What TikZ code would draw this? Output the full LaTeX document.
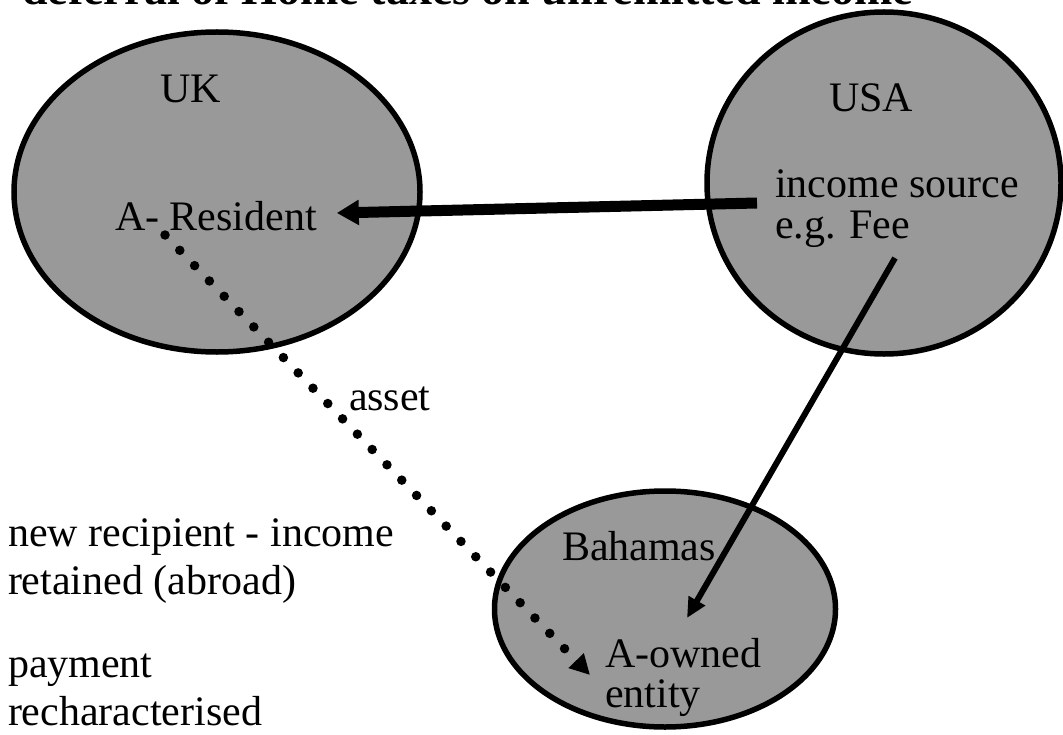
\documentclass[tikz,border=0pt]{standalone}
\usepackage{fontspec}
\setmainfont{Liberation Serif}
\usetikzlibrary{arrows.meta,shapes.geometric,calc}
\definecolor{fillgray}{RGB}{153,153,153}
\begin{document}
\begin{tikzpicture}[x=1bp,y=-1bp,
  country/.style={ellipse, draw=black, fill=fillgray, line width=5.5bp, inner sep=0pt, outer sep=0pt},
  lbl/.style={anchor=base west, inner sep=0pt, outer sep=0pt, font=\fontsize{42bp}{48bp}\selectfont},
  ttl/.style={anchor=base west, inner sep=0pt, outer sep=0pt, font=\fontsize{46bp}{52bp}\selectfont\bfseries},
  flow/.style={line width=11bp, -{Triangle[length=22bp,width=24bp]}},
  thinflow/.style={line width=6bp, -{Triangle[length=20bp,width=18bp]}},
  dots/.style={line width=9.5bp, line cap=round, dash pattern=on 0bp off 21.3bp, -{Triangle[length=20bp,width=20bp]}}]
\useasboundingbox (0,0) rectangle (1063,735);
% title (cut off at the top, as in the reference)
\node[ttl] (title) at (22,5) {deferral of Home taxes on unremitted income};
% countries
\node[country, minimum width=406bp, minimum height=320bp] (uk) at (217,192) {};
\node[country, minimum width=354bp, minimum height=342bp] (usa) at (884,183) {};
\node[country, minimum width=341bp, minimum height=236bp] (bah) at (665,609) {};
% labels
\node[lbl] (uklab) at (160,103) {UK};
\node[lbl] (usalab) at (829,112) {USA};
\node[lbl] (res) at (115,230) {A- Resident};
\node[lbl] (inc) at (775,198) {income source};
\node[lbl] (fee) at (775,238) {e.g. Fee};
\node[lbl] (asset) at (349,410) {asset};
\node[lbl] (bahlab) at (562,560) {Bahamas};
\node[lbl] (own) at (605,667) {A-owned};
\node[lbl] (ent) at (605,707) {entity};
\node[lbl] (n1) at (8,546) {new recipient - income};
\node[lbl] (n2) at (8,594) {retained (abroad)};
\node[lbl] (n3) at (8,677) {payment};
\node[lbl] (n4) at (8,725) {recharacterised};
% connectors
\draw[flow] ($(inc.base west)+(-18,5)$) -- ($(res.base east)+(20,-17)$);
\draw[thinflow] ($(fee.base west)+(120,20)$) -- ($(own.base west)+(82,-49)$);
\draw[dots] ($(res.base west)+(50,5)$) -- ($(own.base west)+(-15,8)$);
\end{tikzpicture}
\end{document}
